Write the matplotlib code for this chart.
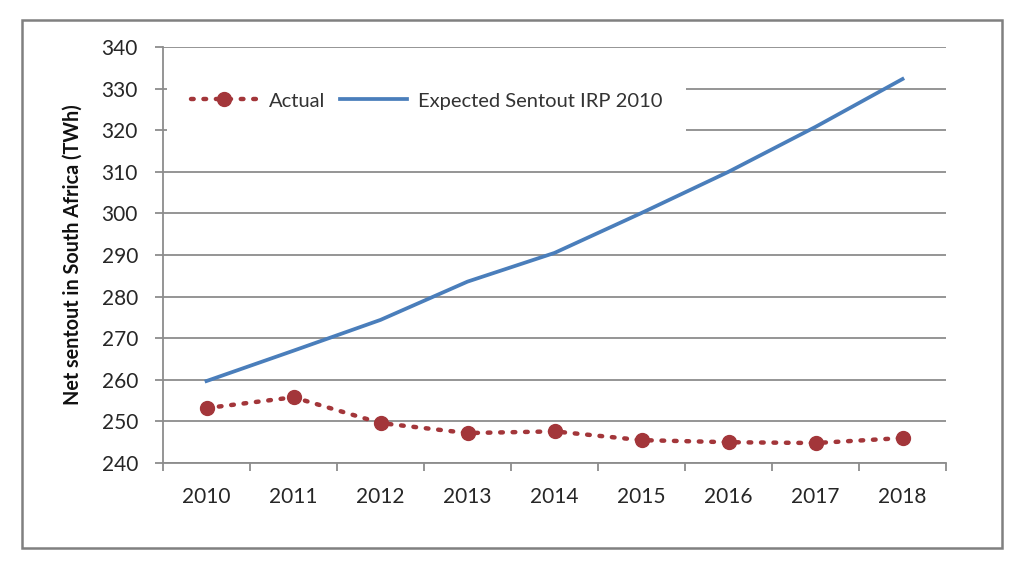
import matplotlib
matplotlib.use("Agg")
import matplotlib.pyplot as plt
from matplotlib.patches import Rectangle
from matplotlib.ticker import MultipleLocator, FixedLocator

years = ["2010", "2011", "2012", "2013", "2014", "2015", "2016", "2017", "2018"]
actual = [253.2, 255.8, 249.6, 247.2, 247.6, 245.5, 245.0, 244.8, 246.0]
expected = [259.7, 267.0, 274.4, 283.6, 290.5, 300.1, 310.0, 320.8, 332.3]

plt.rcParams['font.family'] = ['Lato', 'DejaVu Sans']

W, H = 1024, 571
fig = plt.figure(figsize=(W / 100, H / 100), dpi=100)
L, R, T, B = 163, 946, 47, 463
ax = fig.add_axes([L / W, 1 - B / H, (R - L) / W, (B - T) / H])

def axx(px):
    return (px - L) / (R - L)

def axy(py):
    return (B - py) / (B - T)

x = list(range(len(years)))
red = "#A3363A"
blue = "#4A7EBB"
grid_c = "#8C8C8C"

ax.plot(x, actual, linestyle=(0, (0.6, 2.2)), dash_capstyle='round', color=red,
        linewidth=3.2, marker='o', markersize=10, markerfacecolor=red,
        markeredgecolor=red, label="Actual", zorder=3)
ax.plot(x, expected, color=blue, linewidth=2.7, label="Expected Sentout IRP 2010", zorder=3)

ax.set_xlim(-0.5, len(years) - 0.5)
ax.set_ylim(240, 340)
ax.yaxis.set_major_locator(MultipleLocator(10))
ax.set_xticks(x)
ax.set_xticklabels(years)
ax.xaxis.set_minor_locator(FixedLocator([i - 0.5 for i in range(len(years) + 1)]))

ax.set_axisbelow(True)
ax.grid(axis='y', color=grid_c, linewidth=1.3)
for s in ['top', 'right']:
    ax.spines[s].set_visible(False)
for s in ['left', 'bottom']:
    ax.spines[s].set_color(grid_c)
    ax.spines[s].set_linewidth(1.3)

ax.tick_params(axis='y', which='major', length=6, width=1.3, color=grid_c,
               labelsize=15, labelcolor='#262626', pad=12)
ax.tick_params(axis='x', which='major', length=0, labelsize=15,
               labelcolor='#262626', pad=17)
ax.tick_params(axis='x', which='minor', length=6, width=1.3, color=grid_c)

ax.set_ylabel("Net sentout in South Africa (TWh)", fontsize=14.2, fontweight='bold',
              color='#111111', labelpad=14)

leg = ax.legend(loc='center left', bbox_to_anchor=(axx(167), axy(101)), ncol=2,
                frameon=True, fancybox=False, framealpha=1, facecolor='white',
                edgecolor='none', fontsize=14.5, handlelength=3.3,
                columnspacing=0.75, borderpad=1.2, borderaxespad=0,
                handletextpad=0.55, labelcolor='#333333')
leg.set_zorder(5)

fig.patches.append(Rectangle((22 / W, 1 - 548 / H), (1002 - 22) / W, (548 - 20) / H,
                             transform=fig.transFigure, fill=False,
                             edgecolor='#808080', linewidth=1.8))

fig.savefig("out.png", dpi=100)
